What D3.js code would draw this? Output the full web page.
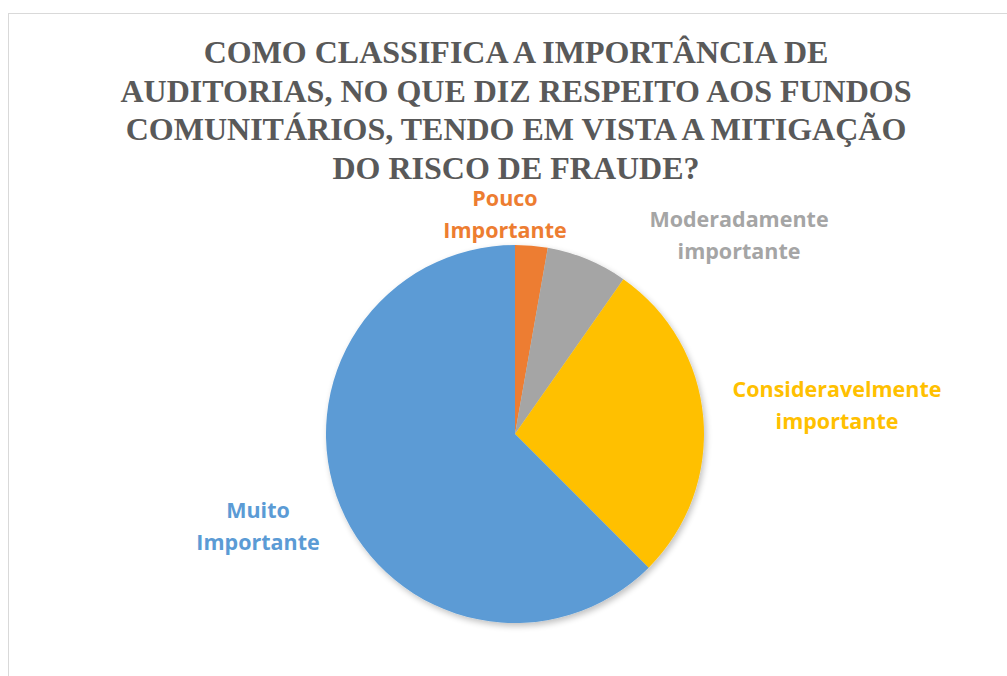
<!DOCTYPE html>
<html>
<head>
<meta charset="utf-8">
<script src="https://cdn.jsdelivr.net/npm/d3@7"></script>
<style>
  body { margin: 0; background: #fff; }
</style>
</head>
<body>
<div id="chart"></div>
<script>
const categories = ["Pouco Importante", "Moderadamente importante", "Consideravelmente importante", "Muito Importante"];
const values = [2, 5, 20, 45];
const colors = ["#ED7D31", "#A5A5A5", "#FFC000", "#5B9BD5"];
const labelLines = [["Pouco", "Importante"], ["Moderadamente", "importante"], ["Consideravelmente", "importante"], ["Muito", "Importante"]];
const titleLines = [
  "COMO CLASSIFICA A IMPORTÂNCIA DE",
  "AUDITORIAS, NO QUE DIZ RESPEITO AOS FUNDOS",
  "COMUNITÁRIOS, TENDO EM VISTA A MITIGAÇÃO",
  "DO RISCO DE FRAUDE?"
];

const w = 1007, h = 676;
const cx = 515, cy = 434, r = 189;

// where the data labels sit (centre x, first baseline), relative to the pie centre
const labelPos = [[-10, -228], [224, -207], [322, -37], [-257, 84]];

const svg = d3.select("#chart").append("svg")
  .attr("width", w)
  .attr("height", h);

// chart frame
svg.append("rect")
  .attr("x", 8.5).attr("y", 13.5)
  .attr("width", w + 10).attr("height", h + 10)
  .attr("fill", "#fff")
  .attr("stroke", "#d9d9d9");

// title
svg.append("text")
  .attr("text-anchor", "middle")
  .attr("font-family", "'Liberation Serif', 'Times New Roman', serif")
  .attr("font-weight", "bold")
  .attr("font-size", 32)
  .attr("fill", "#595959")
  .selectAll("tspan")
  .data(titleLines)
  .enter()
  .append("tspan")
    .attr("x", 516)
    .attr("y", (d, i) => 63 + i * 38.5)
    .text(d => d);

// shadow
const defs = svg.append("defs");
const filter = defs.append("filter").attr("id", "shadow")
  .attr("x", "-20%").attr("y", "-20%").attr("width", "140%").attr("height", "140%");
filter.append("feGaussianBlur").attr("in", "SourceAlpha").attr("stdDeviation", 3);
filter.append("feOffset").attr("dx", 2).attr("dy", 3).attr("result", "blur");
filter.append("feComponentTransfer").append("feFuncA").attr("type", "linear").attr("slope", 0.25);
const merge = filter.append("feMerge");
merge.append("feMergeNode");
merge.append("feMergeNode").attr("in", "SourceGraphic");

const pie = d3.pie().sort(null).value(d => d);
const arcs = pie(values);
const arc = d3.arc().innerRadius(0).outerRadius(r);

const g = svg.append("g")
  .attr("transform", `translate(${cx},${cy})`)
  .attr("filter", "url(#shadow)");

g.selectAll("path")
  .data(arcs)
  .enter()
  .append("path")
    .attr("d", arc)
    .attr("fill", (d, i) => colors[i])
    .append("title")
    .text((d, i) => `${categories[i]}: ${values[i]}`);

// data labels
svg.append("g")
  .attr("transform", `translate(${cx},${cy})`)
  .selectAll("text")
  .data(arcs)
  .enter()
  .append("text")
    .attr("text-anchor", "middle")
    .attr("font-family", "'Open Sans', Lato, sans-serif")
    .attr("font-weight", "bold")
    .attr("font-size", 21.5)
    .attr("fill", (d, i) => colors[i])
    .each(function(d, i) {
      const [x, y] = labelPos[i];
      d3.select(this).selectAll("tspan")
        .data(labelLines[i])
        .enter()
        .append("tspan")
          .attr("x", x)
          .attr("y", (t, j) => y + j * 32)
          .text(t => t);
    });
</script>
</body>
</html>
